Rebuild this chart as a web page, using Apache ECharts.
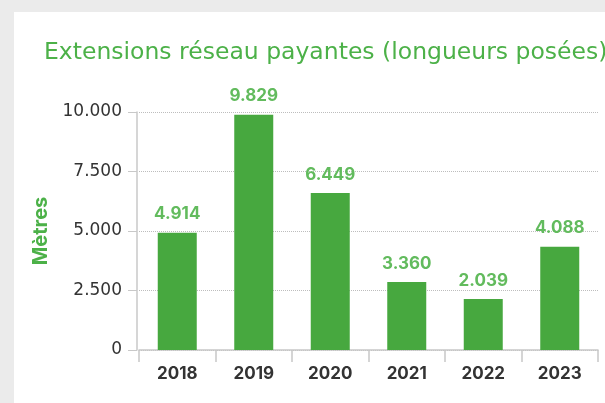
<!DOCTYPE html>
<html>
<head>
<meta charset="utf-8">
<script src="https://cdn.jsdelivr.net/npm/echarts@6/dist/echarts.min.js"></script>
<style>
  html, body { margin: 0; padding: 0; background: #ebebeb; }
  .panel {
    position: absolute; left: 14px; top: 12px;
    width: 591px; height: 391px; background: #fff;
  }
</style>
</head>
<body>
<div id="chart" class="panel"></div>
<script>
// données
const years = ['2018', '2019', '2020', '2021', '2022', '2023'];
// hauteurs des barres telles que dessinées
const barValues = [4930, 9880, 6600, 2860, 2140, 4340];
// étiquettes affichées au-dessus des barres
const barLabels = ['4.914', '9.829', '6.449', '3.360', '2.039', '4.088'];
const yTicks = [0, 2500, 5000, 7500, 10000];

const chart = echarts.init(document.getElementById('chart'));

function formatThousands(v) {
  return String(v).replace(/\B(?=(\d{3})+(?!\d))/g, '.');
}

chart.setOption({
  animation: false,
  textStyle: { fontFamily: 'Inter' },
  title: {
    text: 'Extensions réseau payantes (longueurs posées)',
    left: 25,
    top: 24,
    textStyle: { color: '#4cb148', fontSize: 23.5, fontWeight: 'normal', fontFamily: 'DejaVu Sans' }
  },
  grid: { left: 125, right: 7, top: 100, bottom: 53 },
  xAxis: {
    type: 'category',
    data: years,
    axisLine: { lineStyle: { color: '#c8c8c8', width: 1.5 } },
    axisTick: { show: true, length: 12, lineStyle: { color: '#c8c8c8', width: 1.5 } },
    axisLabel: { color: '#333', fontSize: 17, fontWeight: 'bold', margin: 15 }
  },
  yAxis: {
    type: 'value',
    min: yTicks[0],
    max: yTicks[yTicks.length - 1],
    interval: 2500,
    offset: 2,
    name: 'Mètres',
    nameLocation: 'middle',
    nameRotate: 90,
    nameGap: 86,
    nameTextStyle: { color: '#4cb148', fontSize: 20, fontWeight: 'bold' },
    axisLine: { show: true, lineStyle: { color: '#c8c8c8', width: 1.5 } },
    axisTick: { show: true, length: 9, lineStyle: { color: '#c8c8c8' } },
    axisLabel: { color: '#333', fontSize: 17, margin: 15, fontFamily: 'DejaVu Sans', formatter: formatThousands },
    splitLine: { lineStyle: { color: '#bdbdbd', type: 'dotted' } }
  },
  series: [
    {
      type: 'bar',
      data: barValues,
      barWidth: 39,
      itemStyle: { color: '#47a83f' },
      label: {
        show: true,
        position: 'top',
        distance: 10,
        lineHeight: 17,
        color: '#62bb5d',
        fontSize: 17,
        fontWeight: 'bold',
        formatter: p => barLabels[p.dataIndex]
      }
    }
  ]
});
</script>
</body>
</html>
